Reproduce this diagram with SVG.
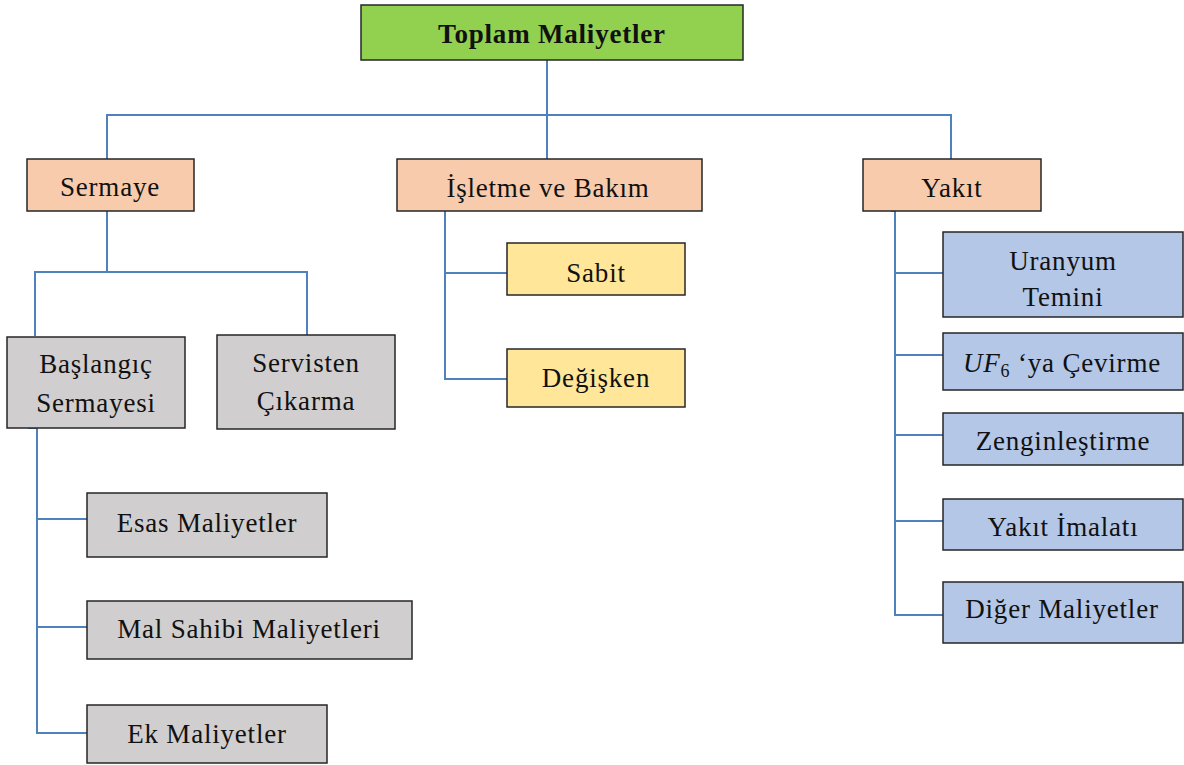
<svg xmlns="http://www.w3.org/2000/svg" width="1184" height="765" viewBox="0 0 1184 765">
<style>
.box{stroke:#262626;stroke-width:1.5}
.g{fill:#92D050}.p{fill:#F8CBAD}.y{fill:#FFE699}.gr{fill:#D0CECE}.b{fill:#B4C7E7}
text{font-family:"Liberation Serif","DejaVu Serif",serif;font-size:27px;letter-spacing:0.8px;fill:#111;text-anchor:middle}
.c{fill:none;stroke:#4F81BD;stroke-width:2}
</style>
<rect width="1184" height="765" fill="#fff"/>
<g id="connectors">
<path class="c" d="M547 60V115M107 159V115H951V159M547 115V159"/>
<path class="c" d="M107 211V272M35 336V272H307V335"/>
<path class="c" d="M28 428H37V734M37 519H87M37 627H87M37 733H87"/>
<path class="c" d="M445 211V380M445 273H507M445 379H507"/>
<path class="c" d="M891 211H895V616M895 273H943M895 355H943M895 435H943M895 521H943M895 615H943"/>
</g>
<g id="n-total"><rect class="box g" x="361" y="5" width="382" height="55"/><text x="552" y="43" font-weight="bold">Toplam Maliyetler</text></g>
<g id="n-sermaye"><rect class="box p" x="27" y="159" width="167" height="52"/><text x="110" y="196">Sermaye</text></g>
<g id="n-isletme"><rect class="box p" x="397" y="159" width="305" height="52"/><text x="548" y="197">İşletme ve Bakım</text></g>
<g id="n-yakit"><rect class="box p" x="863" y="159" width="178" height="52"/><text x="952" y="197">Yakıt</text></g>
<g id="n-baslangic"><rect class="box gr" x="7" y="337" width="178" height="91"/><text x="96" y="373">Başlangıç</text><text x="96" y="412">Sermayesi</text></g>
<g id="n-servisten"><rect class="box gr" x="217" y="335" width="178" height="94"/><text x="306" y="372">Servisten</text><text x="306" y="410">Çıkarma</text></g>
<g id="n-esas"><rect class="box gr" x="87" y="493" width="240" height="64"/><text x="207" y="532">Esas Maliyetler</text></g>
<g id="n-malsahibi"><rect class="box gr" x="87" y="601" width="325" height="58"/><text x="249" y="638">Mal Sahibi Maliyetleri</text></g>
<g id="n-ek"><rect class="box gr" x="87" y="705" width="240" height="58"/><text x="207" y="743">Ek Maliyetler</text></g>
<g id="n-sabit"><rect class="box y" x="507" y="243" width="178" height="52"/><text x="596" y="282">Sabit</text></g>
<g id="n-degisken"><rect class="box y" x="507" y="349" width="178" height="58"/><text x="596" y="387">Değişken</text></g>
<g id="n-uranyum"><rect class="box b" x="943" y="232" width="240" height="85"/><text x="1063" y="270">Uranyum</text><text x="1063" y="306">Temini</text></g>
<g id="n-uf6"><rect class="box b" x="943" y="333" width="240" height="57"/><text x="1062" y="372"><tspan font-style="italic">UF</tspan><tspan font-size="18" dy="5">6</tspan><tspan dy="-5"> ‘ya Çevirme</tspan></text></g>
<g id="n-zengin"><rect class="box b" x="943" y="413" width="240" height="52"/><text x="1063" y="450">Zenginleştirme</text></g>
<g id="n-imalat"><rect class="box b" x="943" y="499" width="240" height="51"/><text x="1063" y="536">Yakıt İmalatı</text></g>
<g id="n-diger"><rect class="box b" x="943" y="582" width="240" height="61"/><text x="1062" y="618">Diğer Maliyetler</text></g>
</svg>
